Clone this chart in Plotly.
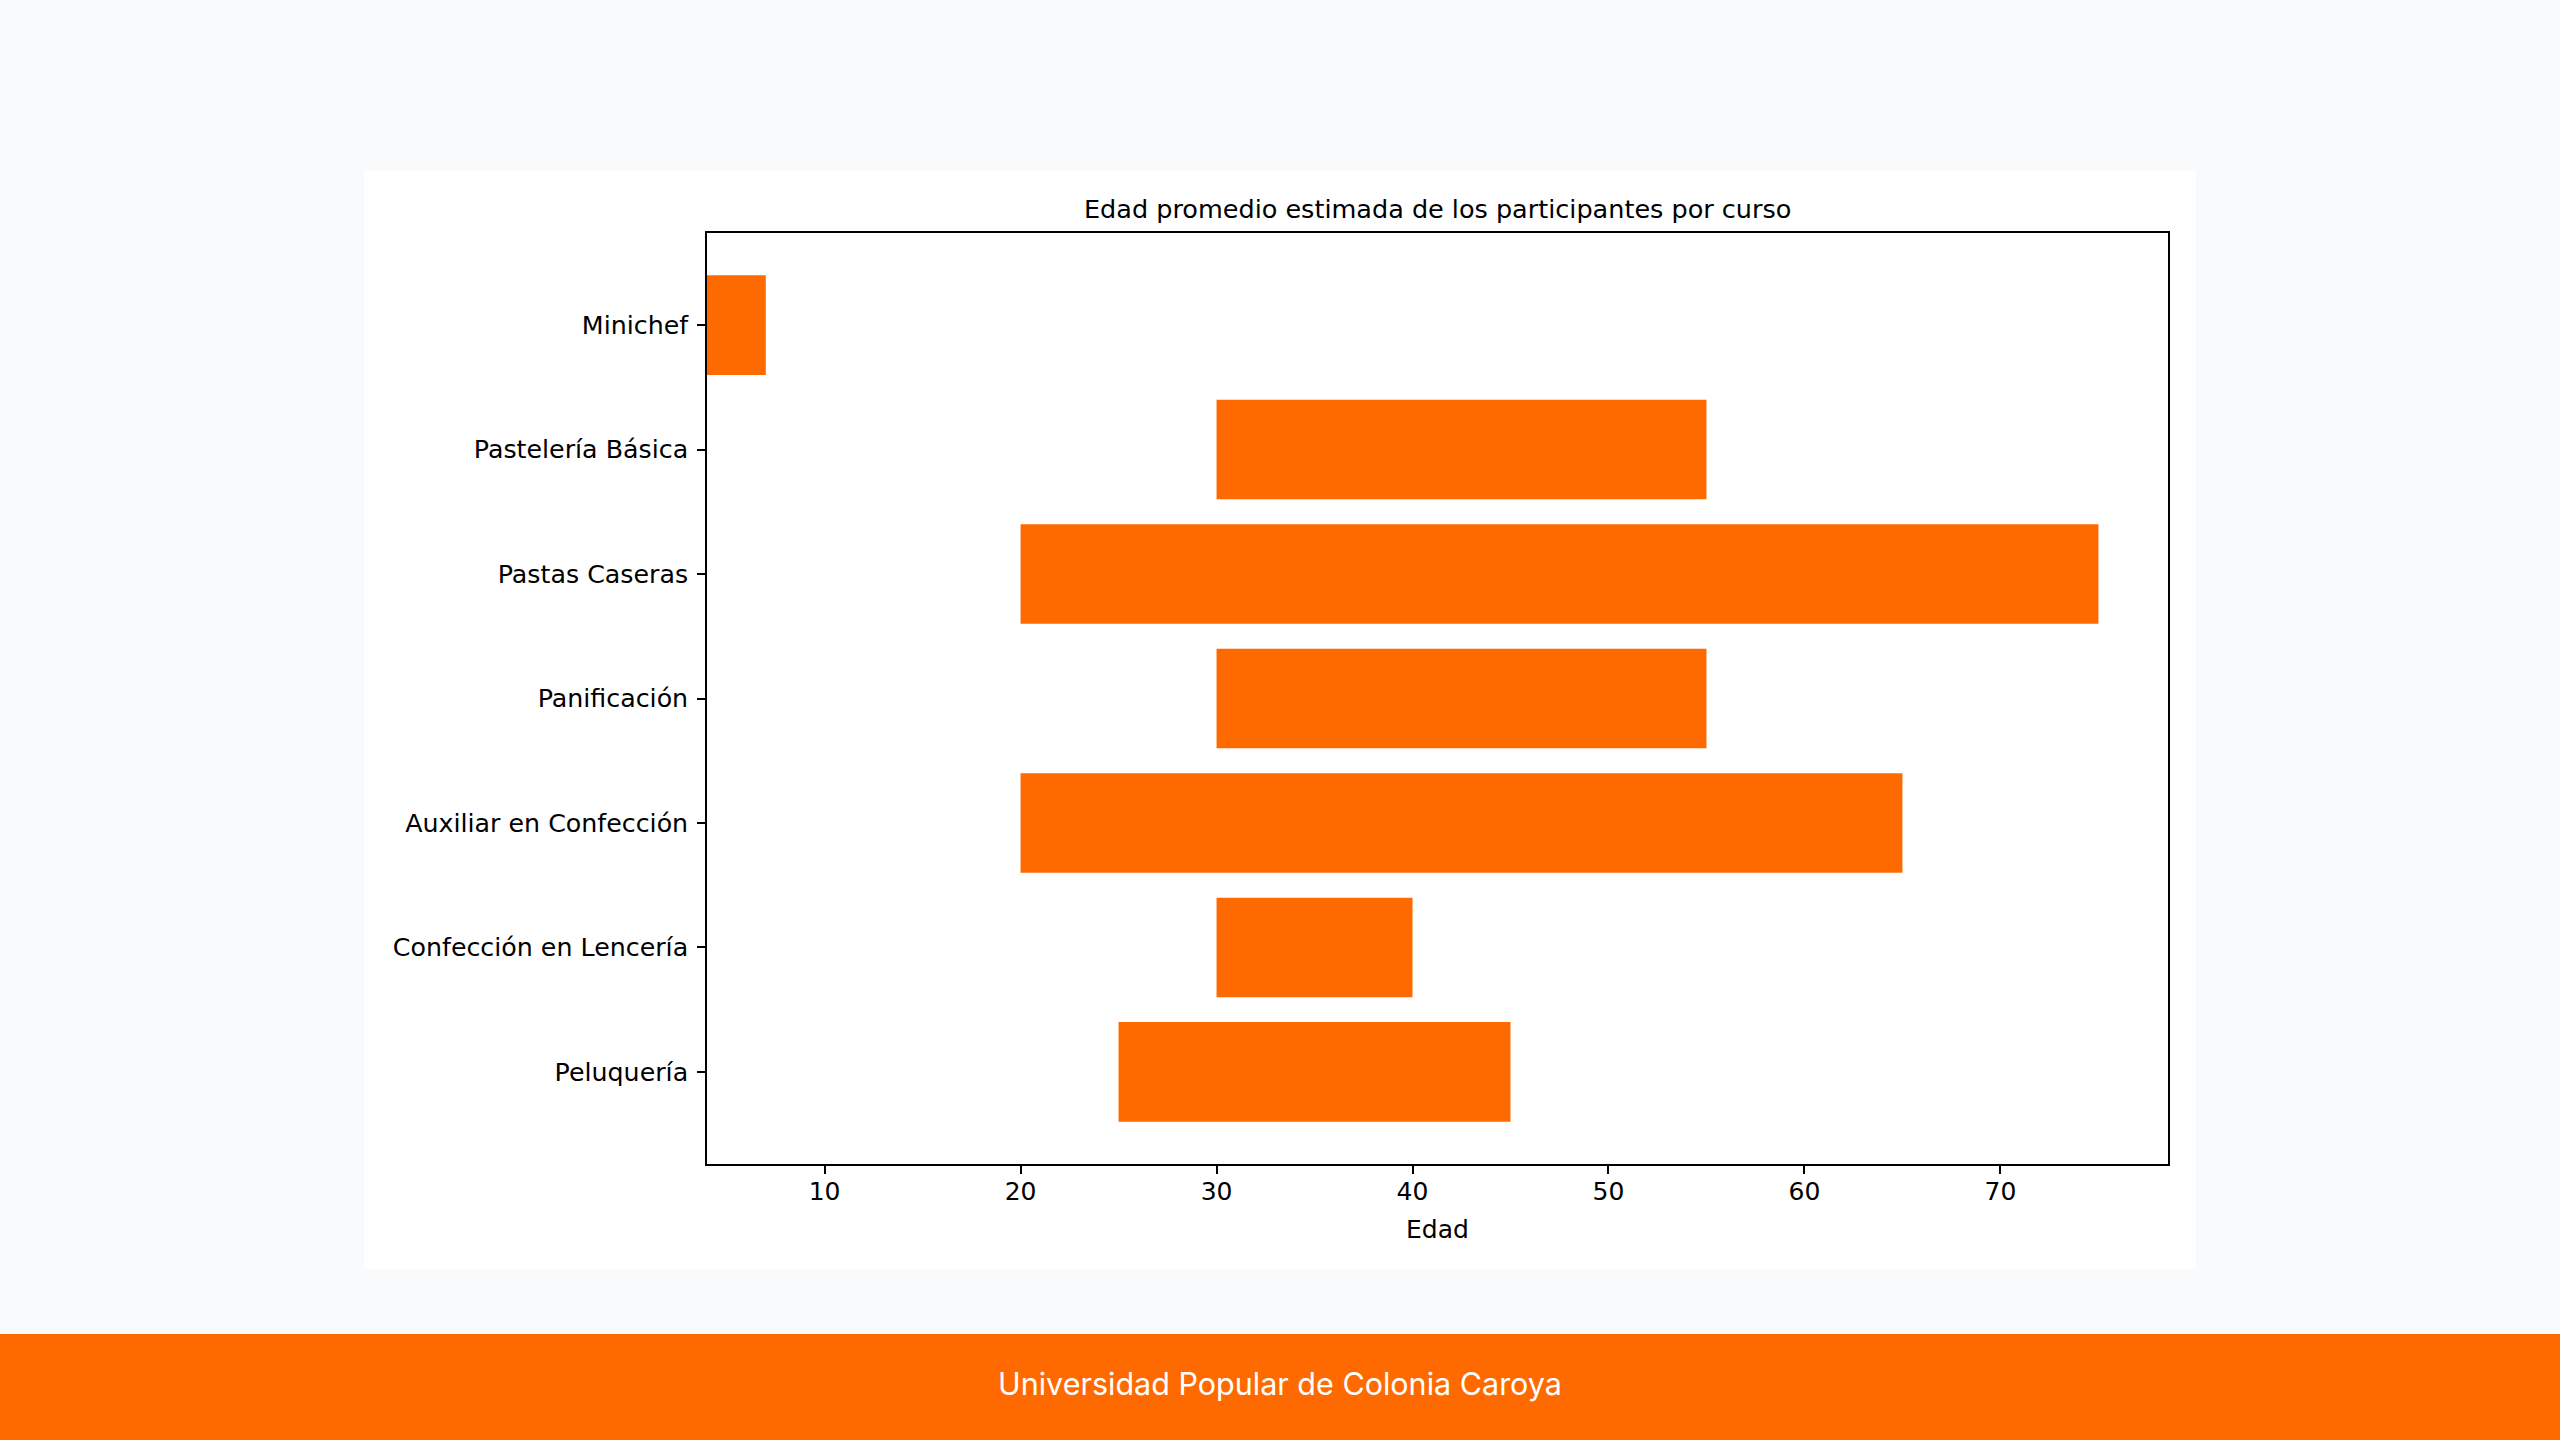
import plotly.graph_objects as go

# Courses and estimated age range of participants (from - to)
cursos = ["Minichef", "Pastelería Básica", "Pastas Caseras", "Panificación",
          "Auxiliar en Confección", "Confección en Lencería", "Peluquería"]
edad_min = [4, 30, 20, 30, 20, 30, 25]
edad_max = [7, 55, 75, 55, 65, 40, 45]
x_ticks = [10, 20, 30, 40, 50, 60, 70]

ORANGE = "#FF6A00"
FONT = "DejaVu Sans"

fig = go.Figure()

# floating bars: base at min age, length up to max age
fig.add_trace(go.Bar(
    y=cursos,
    x=[b - a for a, b in zip(edad_min, edad_max)],
    base=edad_min,
    orientation="h",
    width=0.8,
    marker=dict(color=ORANGE, line=dict(width=0)),
    showlegend=False,
))

# white card behind the chart + orange footer band
shapes = [
    dict(type="rect", xref="paper", yref="paper", x0=364/2560, x1=2196/2560,
         y0=1-1269/1440, y1=1-170/1440, fillcolor="white", line=dict(width=0), layer="below"),
    dict(type="rect", xref="paper", yref="paper", x0=0, x1=1,
         y0=0, y1=1-1334/1440, fillcolor=ORANGE, line=dict(width=0), layer="below"),
]

annotations = [
    dict(text="Edad promedio estimada de los participantes por curso", xref="paper", yref="paper",
         x=0.5615, y=1-209/1440, showarrow=False, xanchor="center", yanchor="middle",
         font=dict(family=FONT, size=25.5, color="#000000")),
    dict(text="Universidad Popular de Colonia Caroya", xref="paper", yref="paper",
         x=0.5, y=1-1383/1440, showarrow=False, xanchor="center", yanchor="middle",
         font=dict(family="Inter", size=30.5, color="white")),
]

fig.update_layout(
    width=2560, height=1440,
    margin=dict(l=0, r=0, t=0, b=0),
    paper_bgcolor="#F8FAFC",
    plot_bgcolor="white",
    shapes=shapes,
    annotations=annotations,
    font=dict(family=FONT, size=25, color="#000000"),
    xaxis=dict(
        domain=[707/2560, 2168/2560],
        range=[4, 78.55],
        tickvals=x_ticks,
        ticks="outside", ticklen=8, tickwidth=1.5, tickcolor="black",
        ticklabelstandoff=-4,
        showline=True, linecolor="black", linewidth=1.5, mirror=True,
        showgrid=False, zeroline=False,
        title=dict(text="Edad", font=dict(family=FONT, size=25), standoff=16),
        tickfont=dict(family=FONT, size=25),
    ),
    yaxis=dict(
        domain=[1-1164/1440, 1-233/1440],
        type="category",
        categoryorder="array", categoryarray=cursos,
        range=[6.74, -0.74],
        ticks="outside", ticklen=8, tickwidth=1.5, tickcolor="black",
        ticklabelstandoff=-4,
        showline=True, linecolor="black", linewidth=1.5, mirror=True,
        showgrid=False, zeroline=False,
        tickfont=dict(family=FONT, size=25.3),
        ticksuffix=" ",
    ),
)

# drop the default page margin so the figure sits at the window corner
fig.write_html("out.html", config={"displayModeBar": False},
               post_script="document.body.style.margin='0';")
